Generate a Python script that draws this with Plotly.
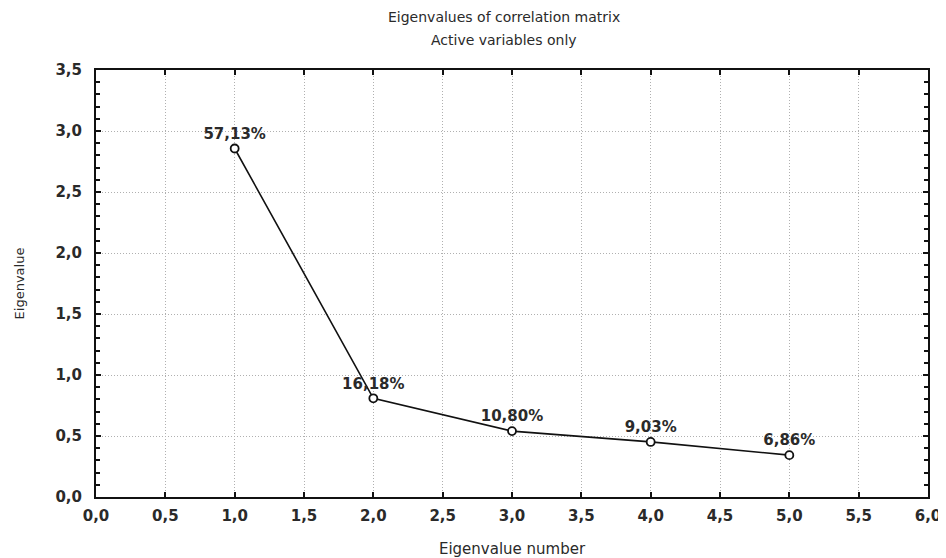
import plotly.graph_objects as go

eig_number = [1, 2, 3, 4, 5]
eigenvalues = [2.8565, 0.809, 0.540, 0.4515, 0.343]
pct_labels = ["57,13%", "16,18%", "10,80%", "9,03%", "6,86%"]

FONT = "DejaVu Sans, Verdana, sans-serif"
TXT = "#2a2a2a"

fig = go.Figure()
fig.add_trace(go.Scatter(
    x=eig_number, y=eigenvalues, mode="lines+markers+text",
    text=pct_labels, textposition="top center",
    textfont=dict(family=FONT, size=15, color=TXT, weight="bold"),
    line=dict(color="#111111", width=1.6),
    marker=dict(symbol="circle", size=8, color="white", line=dict(width=1.8, color="#111111")),
    cliponaxis=False, showlegend=False,
))

axis_common = dict(
    showline=True, linecolor="#111111", linewidth=2, mirror="ticks",
    ticks="inside", ticklen=5, tickcolor="#111111", tickwidth=1.5,
    showgrid=True, gridcolor="#b0b0b0", griddash="1px,2px", gridwidth=1,
    zeroline=False, automargin=False,
    tickfont=dict(family=FONT, size=15, color=TXT, weight="bold"),
    tickformat=".1f",
)

fig.update_xaxes(range=[0, 6], dtick=0.5, tick0=0, ticklabelstandoff=4, **axis_common,
                 title=dict(text="Eigenvalue number", font=dict(family=FONT, size=15, color=TXT), standoff=23))
fig.update_yaxes(range=[0, 3.5], dtick=0.5, tick0=0, ticklabelstandoff=9, **axis_common,
                 minor=dict(ticks="inside", dtick=0.1, ticklen=4, tickcolor="#111111", showgrid=False),
                 title=dict(text="Eigenvalue", font=dict(family=FONT, size=13, color=TXT), standoff=28))

# page body has an 8px margin, so the figure is sized to fit the 946x558 window
fig.update_layout(
    width=938, height=550,
    margin=dict(l=88, r=18, t=62, b=61),
    paper_bgcolor="white", plot_bgcolor="white",
    separators=",.",
    annotations=[
        dict(text="Eigenvalues of correlation matrix", xref="paper", yref="paper",
             x=0.49, y=1, yanchor="middle", yshift=53, showarrow=False,
             font=dict(family=FONT, size=14, color=TXT)),
        dict(text="Active variables only", xref="paper", yref="paper",
             x=0.49, y=1, yanchor="middle", yshift=30, showarrow=False,
             font=dict(family=FONT, size=14, color=TXT)),
    ],
)

fig.write_html("out.html")
